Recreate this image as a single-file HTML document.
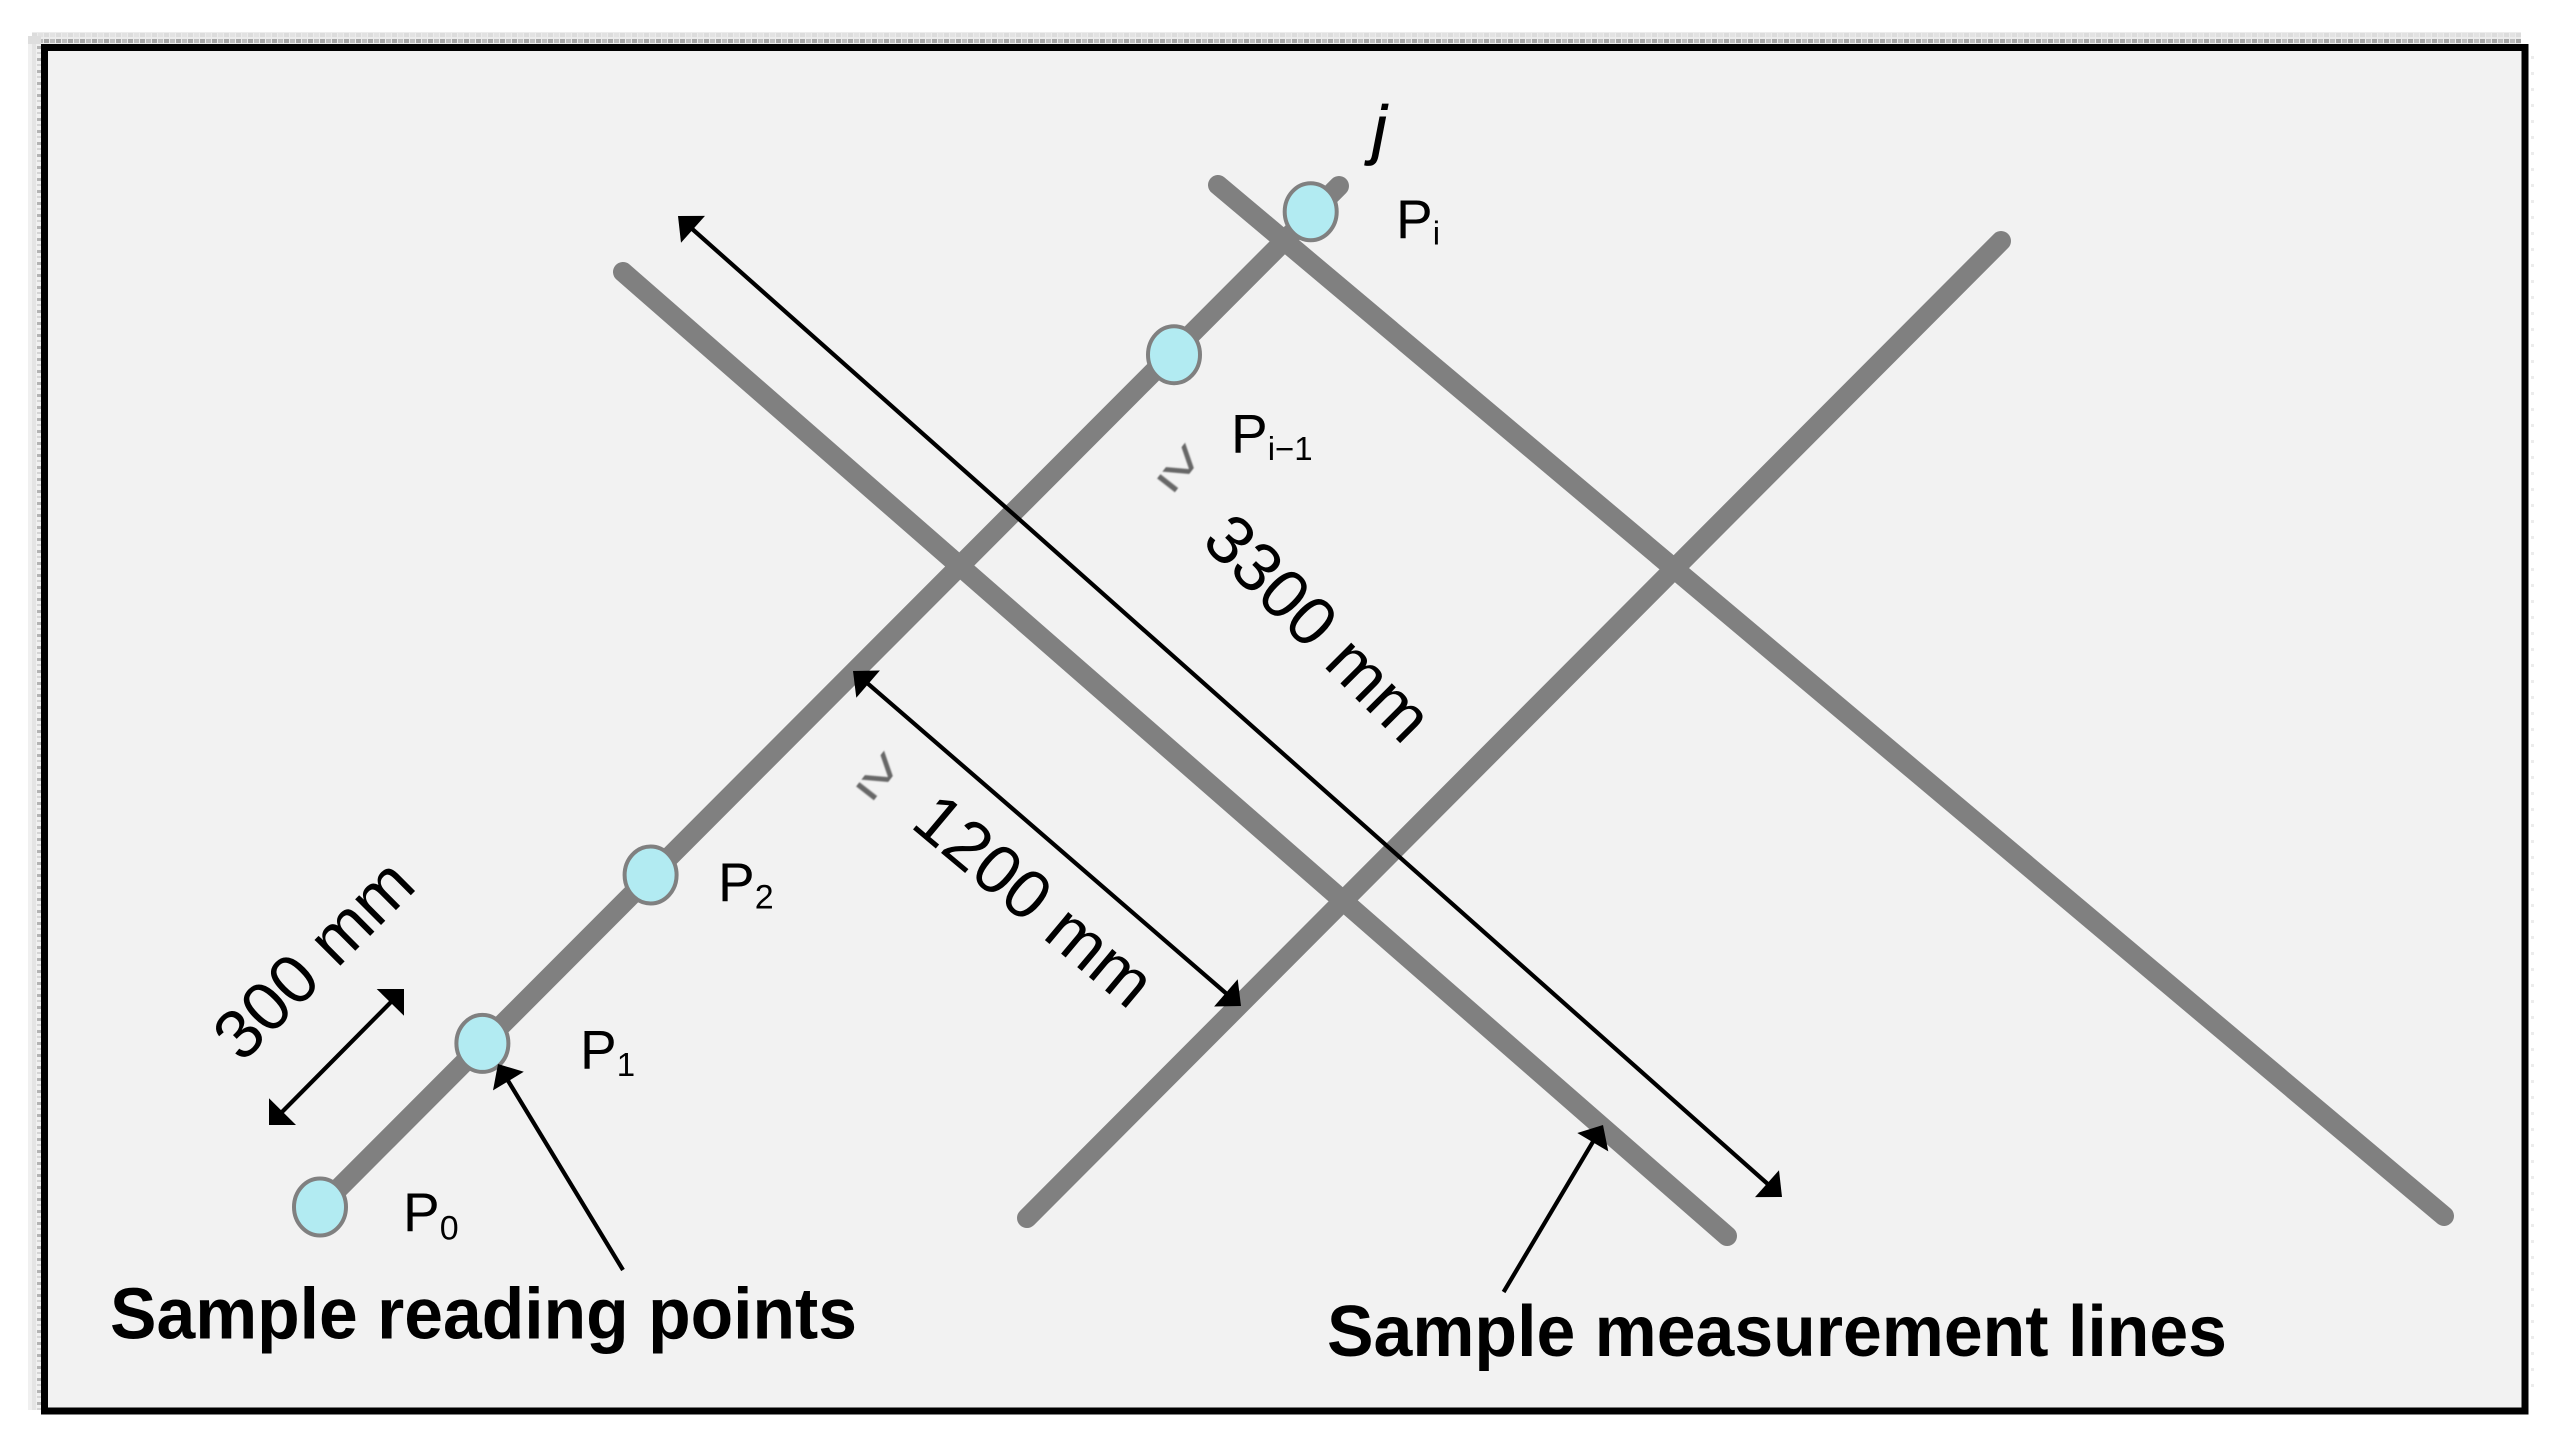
<!DOCTYPE html>
<html>
<head>
<meta charset="utf-8">
<style>
html,body{margin:0;padding:0;background:#fff;width:2553px;height:1455px;overflow:hidden}
svg{display:block}
text{font-family:"Liberation Sans",Arial,sans-serif;fill:#000}
</style>
</head>
<body>
<svg xmlns="http://www.w3.org/2000/svg" width="2553" height="1455" viewBox="0 0 2553 1455">
<defs>
<pattern id="h" width="12" height="11" patternUnits="userSpaceOnUse" x="32" y="32">
<rect width="12" height="11" fill="#ececec"/>
<rect x="0" y="1" width="5" height="4" fill="#dcdcdc"/>
<rect x="6" y="1" width="5" height="4" fill="#e2e2e2"/>
<rect x="0" y="7" width="5" height="4" fill="#a4a4a4"/>
<rect x="6" y="7" width="5" height="4" fill="#bcbcbc"/>
</pattern>
<pattern id="l" width="13" height="12" patternUnits="userSpaceOnUse" x="28" y="44">
<rect width="13" height="12" fill="#f0f0f0"/>
<rect x="4" y="0" width="4" height="12" fill="#e4e4e4"/>
<rect x="9" y="2" width="4" height="3" fill="#b4b4b4"/>
<rect x="9" y="8" width="4" height="2" fill="#d4d4d4"/>
</pattern>
<pattern id="r" width="16" height="16" patternUnits="userSpaceOnUse" x="2531" y="50">
<rect x="0" y="6" width="3" height="3" fill="#ececec"/>
</pattern>
<filter id="b" x="-20%" y="-20%" width="140%" height="140%"><feGaussianBlur stdDeviation="0.7"/></filter>
</defs>
<rect width="2553" height="1455" fill="#fff"/>
<rect x="32" y="32" width="2489" height="12" fill="url(#h)"/>
<rect x="28" y="44" width="13" height="1366" fill="url(#l)"/>
<rect x="28" y="36" width="13" height="8" fill="#dedede"/>
<rect x="2531" y="50" width="3" height="1340" fill="url(#r)"/>
<rect x="44.5" y="47.5" width="2480.5" height="1363.5" fill="#f2f2f2" stroke="#000" stroke-width="7"/>

<g stroke="#808080" stroke-width="20" stroke-linecap="round" fill="none">
<line x1="320" y1="1207" x2="1339" y2="186"/>
<line x1="1218" y1="185" x2="2444" y2="1216"/>
<line x1="623" y1="272" x2="1727" y2="1236"/>
<line x1="1027" y1="1218" x2="2001" y2="241"/>
</g>

<g fill="#b2ebf2" stroke="#808080" stroke-width="4">
<ellipse cx="320" cy="1207" rx="26" ry="28.5"/>
<ellipse cx="482.4" cy="1043.4" rx="26" ry="28.5"/>
<ellipse cx="650.6" cy="875" rx="26" ry="28.5"/>
<ellipse cx="1174" cy="354.7" rx="26" ry="28.5"/>
<ellipse cx="1310.7" cy="211.7" rx="26" ry="28.5"/>
</g>

<g stroke="#000" stroke-width="4.2" fill="none">
<line x1="690" y1="227" x2="1770" y2="1186"/>
<line x1="866" y1="682" x2="1228" y2="995"/>
<line x1="392" y1="1001" x2="282" y2="1112"/>
<line x1="623" y1="1270" x2="507" y2="1079"/>
<line x1="1503.6" y1="1292" x2="1594" y2="1140"/>
</g>
<g fill="#000">
<polygon points="678,216 681,242.7 705,215.9"/>
<polygon points="1782,1197 1755,1197.1 1779,1170.2"/>
<polygon points="853,671 856.3,697.7 879.9,670.5"/>
<polygon points="1241,1006 1214.1,1006.5 1237.7,979.3"/>
<polygon points="404,989 404,1015.7 376.7,989"/>
<polygon points="269,1125 296,1125 269,1098.3"/>
<polygon points="498,1064 523.8,1071.8 493,1090.4"/>
<polygon points="1603,1125 1608.3,1151.4 1577.3,1133"/>
</g>

<text x="403" y="1231" font-size="55">P<tspan font-size="34" dy="8.5">0</tspan></text>
<text x="580" y="1068.6" font-size="55">P<tspan font-size="33" dy="7.5">1</tspan></text>
<text x="718" y="901" font-size="55">P<tspan font-size="34" dy="7.5">2</tspan></text>
<text x="1231" y="452.7" font-size="55">P<tspan font-size="33" dy="7.5">i−1</tspan></text>
<text x="1396" y="238" font-size="55">P<tspan font-size="33" dy="6.5">i</tspan></text>
<text x="1372" y="152" font-size="66" font-style="italic" stroke="#000" stroke-width="0.8">j</text>

<text transform="translate(1200 543) rotate(45)" font-size="69">3300 mm</text>
<text transform="translate(909 826) rotate(40)" font-size="69">1200 mm</text>
<text transform="translate(242 1064) rotate(-45)" font-size="69">300 mm</text>

<text transform="translate(1178 470) rotate(38) scale(0.8 1.3)" font-size="58" text-anchor="middle" y="15" style="fill:#444" opacity="0.8" filter="url(#b)">≥</text>
<text transform="translate(877 778) rotate(38) scale(0.8 1.3)" font-size="58" text-anchor="middle" y="15" style="fill:#444" opacity="0.8" filter="url(#b)">≥</text>

<text x="110" y="1338.6" font-size="72" font-weight="bold" textLength="747" lengthAdjust="spacingAndGlyphs">Sample reading points</text>
<text x="1327" y="1356" font-size="72" font-weight="bold" textLength="900" lengthAdjust="spacingAndGlyphs">Sample measurement lines</text>
</svg>
</body>
</html>
